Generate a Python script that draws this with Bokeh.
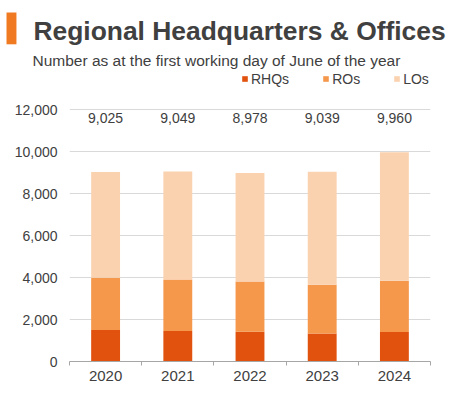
from bokeh.plotting import figure
from bokeh.models import (Range1d, FixedTicker, Label, Legend,
                          LegendItem, ColumnDataSource, NumeralTickFormatter)
from bokeh.embed import file_html
from bokeh.resources import INLINE
from bokeh.core.properties import value

# ---- data ----
years = ["2020", "2021", "2022", "2023", "2024"]
rhqs = [1504, 1457, 1411, 1336, 1410]
ros = [2483, 2450, 2397, 2319, 2430]
los = [5038, 5142, 5170, 5384, 6120]
series = ["RHQs", "ROs", "LOs"]
y_ticks = [0, 2000, 4000, 6000, 8000, 10000, 12000]
title = "Regional Headquarters & Offices"
subtitle = "Number as at the first working day of June of the year"

# ---- style / layout ----
colors = ["#E2520F", "#F5984C", "#FAD2B0"]
TXT = "#404040"
FONT = "Liberation Sans"
W, H = 469, 397
FL, FR, FT, FB = 69, 430, 70, 361      # frame edges (px)
Y12K = 109                              # pixel row of the 12,000 gridline
YMAX = y_ticks[-1] * (FB - FT) / (FB - Y12K)

xs = [i + 0.5 for i in range(len(years))]
totals = [a + b + c for a, b, c in zip(rhqs, ros, los)]
src = ColumnDataSource(dict(x=xs, RHQs=rhqs, ROs=ros, LOs=los,
                            ty=[11600] * len(years),
                            tt=[f"{t:,}" for t in totals]))

p = figure(width=W, height=H, x_range=Range1d(0, len(years)),
           y_range=Range1d(0, YMAX), output_backend="svg",
           toolbar_location=None, min_border_left=FL, min_border_right=W - FR,
           min_border_top=FT, min_border_bottom=H - FB)
p.outline_line_color = None

rs = p.vbar_stack(series, x="x", width=0.4, fill_color=colors,
                  line_color=None, source=src)

p.text(x="x", y="ty", text="tt", source=src, text_align="center",
       text_baseline="middle", text_font=value(FONT), text_font_size="14px",
       text_color=TXT)

# x axis
p.xaxis.ticker = FixedTicker(ticks=xs, minor_ticks=list(range(len(years) + 1)))
p.xaxis.major_label_overrides = {x: y for x, y in zip(xs, years)}
p.xaxis.major_tick_line_color = None
p.xaxis.major_tick_out = 0
p.xaxis.major_tick_in = 0
p.xaxis.minor_tick_line_color = "#A6A6A6"
p.xaxis.minor_tick_in = 0
p.xaxis.minor_tick_out = 4
p.xaxis.axis_line_color = "#A6A6A6"
p.xaxis.major_label_standoff = 5
p.xaxis.major_label_text_font = FONT
p.xaxis.major_label_text_font_size = "15px"
p.xaxis.major_label_text_color = TXT
p.xgrid.visible = False

# y axis
p.yaxis.ticker = FixedTicker(ticks=y_ticks)
p.yaxis.formatter = NumeralTickFormatter(format="0,0")
p.yaxis.axis_line_color = None
p.yaxis.major_tick_line_color = None
p.yaxis.major_tick_out = 0
p.yaxis.major_tick_in = 0
p.yaxis.minor_tick_line_color = None
p.yaxis.major_label_standoff = 12
p.yaxis.major_label_text_font = FONT
p.yaxis.major_label_text_font_size = "14px"
p.yaxis.major_label_text_color = TXT
p.ygrid.grid_line_color = "#D9D9D9"
p.ygrid.grid_line_width = 1

legend = Legend(items=[LegendItem(label=s, renderers=[r]) for s, r in zip(series, rs)],
                orientation="horizontal",
                location=(241 - FL, FB - 86.5),
                glyph_width=7, glyph_height=7, label_standoff=3, spacing=33,
                label_height=14, label_text_font=FONT, label_text_font_size="14px",
                label_text_color=TXT, padding=0, margin=0,
                border_line_color=None, background_fill_alpha=0)
p.add_layout(legend, "center")

# orange accent bar: an empty label box with a filled background
# (kept in the narrow right panel so it does not enlarge the header panel)
p.add_layout(Label(x=6, y=12, x_units="canvas", y_units="canvas",
                   text=" \n \n ", text_font=FONT, text_font_size="7px",
                   text_align="left", text_baseline="top",
                   background_fill_color="#F07A22", background_fill_alpha=1,
                   border_line_color=None, padding=4), "right")

# title and subtitle in the panel above the frame (canvas pixel units)
p.add_layout(Label(x=33, y=30.5, x_units="canvas", y_units="canvas",
                   text=title, text_font=FONT, text_font_style="bold",
                   text_font_size="26.4px", text_color=TXT,
                   text_baseline="alphabetic"), "above")
p.add_layout(Label(x=32, y=59.5, x_units="canvas", y_units="canvas",
                   text=subtitle, text_font=FONT, text_font_size="15.5px",
                   text_color=TXT, text_baseline="alphabetic"), "above")

open("out.html", "w").write(file_html(p, INLINE))
